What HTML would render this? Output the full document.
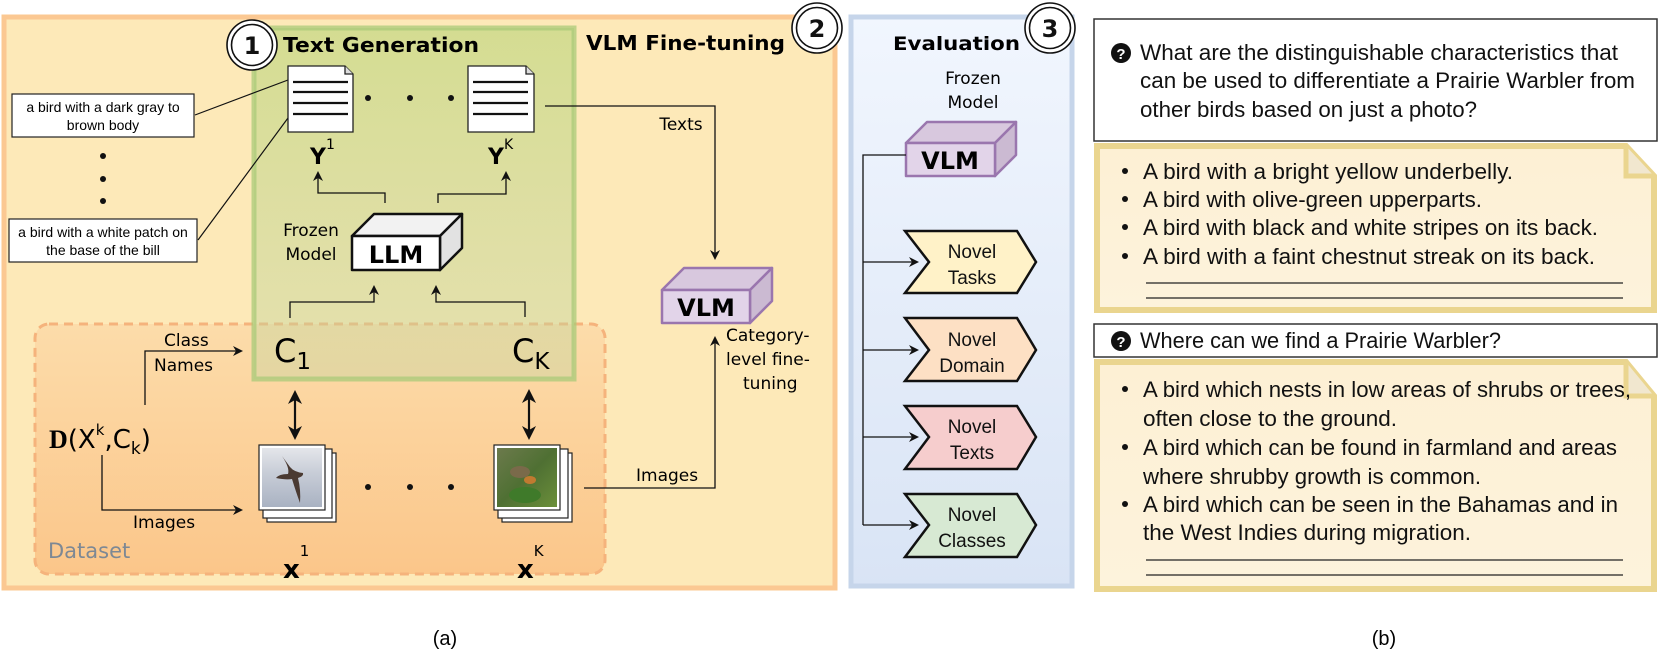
<!DOCTYPE html>
<html><head><meta charset="utf-8"><style>html,body{margin:0;padding:0;background:#fff}svg{display:block}</style></head>
<body>
<svg width="1661" height="659" viewBox="0 0 1661 659" xmlns="http://www.w3.org/2000/svg" font-family="'DejaVu Sans', 'Liberation Sans', sans-serif">
<defs>
<marker id="ah" markerWidth="10" markerHeight="10" refX="8" refY="5" orient="auto" markerUnits="userSpaceOnUse"><path d="M0,0 L10,5 L0,10 L3,5 Z" fill="#111"/></marker>
<marker id="ahb" markerWidth="14" markerHeight="14" refX="11" refY="7" orient="auto-start-reverse" markerUnits="userSpaceOnUse"><path d="M0,0 L14,7 L0,14 L4,7 Z" fill="#111"/></marker>
<linearGradient id="gds" x1="0" y1="0" x2="0" y2="1"><stop offset="0" stop-color="#fcdcaa"/><stop offset="1" stop-color="#fbc68a"/></linearGradient>
<linearGradient id="ggr" x1="0" y1="0" x2="0" y2="1"><stop offset="0" stop-color="rgb(185,212,120)" stop-opacity="0.6"/><stop offset="1" stop-color="rgb(195,212,160)" stop-opacity="0.4"/></linearGradient>
<linearGradient id="gev" x1="0" y1="0" x2="0" y2="1"><stop offset="0" stop-color="#f1f6fe"/><stop offset="1" stop-color="#d9e4f5"/></linearGradient>
<linearGradient id="gnote" x1="0" y1="0" x2="0" y2="1"><stop offset="0" stop-color="#fdf0d4"/><stop offset="1" stop-color="#fdf3dc"/></linearGradient>
<linearGradient id="gsky" x1="0" y1="0" x2="0" y2="1"><stop offset="0" stop-color="#e4e6ea"/><stop offset="0.4" stop-color="#c9ced8"/><stop offset="1" stop-color="#a9b2c2"/></linearGradient>
<linearGradient id="gfor" x1="0" y1="0" x2="1" y2="1"><stop offset="0" stop-color="#6c7a4c"/><stop offset="0.5" stop-color="#4f7033"/><stop offset="1" stop-color="#6b8f3a"/></linearGradient>
</defs>

<!-- Outer orange panel -->
<rect x="4" y="17" width="831" height="571" fill="#fde9b8" stroke="#fbc892" stroke-width="5"/>
<!-- Dataset box -->
<rect x="35" y="324" width="570" height="250" rx="14" fill="url(#gds)" stroke="#f5b37c" stroke-width="3" stroke-dasharray="9,6"/>
<text x="48" y="558" font-size="21" fill="#7d8894">Dataset</text>
<!-- Green box -->
<rect x="254" y="28" width="320" height="351" fill="url(#ggr)" stroke="rgb(170,202,120)" stroke-opacity="0.75" stroke-width="5"/>

<!-- Evaluation panel -->
<rect x="851" y="17" width="221" height="569" fill="url(#gev)" stroke="#c6d5ea" stroke-width="5"/>

<!-- circles -->
<g fill="#fff" stroke="#111" stroke-width="1.6">
<circle cx="252" cy="45" r="25"/><circle cx="252" cy="45" r="20.5"/>
<circle cx="817" cy="28" r="25"/><circle cx="817" cy="28" r="20.5"/>
<circle cx="1050" cy="28" r="25"/><circle cx="1050" cy="28" r="20.5"/>
</g>
<g font-weight="bold" font-size="24" text-anchor="middle" fill="#111">
<text x="252" y="54">1</text><text x="817" y="37">2</text><text x="1050" y="37">3</text>
</g>
<text x="283" y="52" font-size="20" font-weight="bold" textLength="196" lengthAdjust="spacingAndGlyphs">Text Generation</text>
<text x="586" y="50" font-size="20" font-weight="bold" textLength="199" lengthAdjust="spacingAndGlyphs">VLM Fine-tuning</text>

<!-- left text boxes -->
<rect x="12" y="94" width="182" height="43" fill="#fff" stroke="#222" stroke-width="1.2"/>
<text x="103" y="112" font-size="14" text-anchor="middle" font-family="'Liberation Sans',sans-serif">a bird with a dark gray to</text>
<text x="103" y="130" font-size="14" text-anchor="middle" font-family="'Liberation Sans',sans-serif">brown body</text>
<rect x="9" y="219" width="188" height="43" fill="#fff" stroke="#222" stroke-width="1.2"/>
<text x="103" y="237" font-size="14" text-anchor="middle" font-family="'Liberation Sans',sans-serif">a bird with a white patch on</text>
<text x="103" y="255" font-size="14" text-anchor="middle" font-family="'Liberation Sans',sans-serif">the base of the bill</text>
<g fill="#111"><circle cx="103" cy="156" r="3"/><circle cx="103" cy="179" r="3"/><circle cx="103" cy="201" r="3"/></g>
<line x1="195" y1="115" x2="288" y2="80" stroke="#111" stroke-width="1.2"/>
<line x1="198" y1="240" x2="288" y2="118" stroke="#111" stroke-width="1.2"/>

<!-- docs -->
<g stroke="#222" stroke-width="1.3">
<path d="M288,66 L345,66 L353,74 L353,132 L288,132 Z" fill="#fff"/><path d="M345,66 L345,74 L353,74" fill="#ddd"/>
<path d="M468,66 L526,66 L534,74 L534,132 L468,132 Z" fill="#fff"/><path d="M526,66 L526,74 L534,74" fill="#ddd"/>
</g>
<g stroke="#111" stroke-width="2.2">
<line x1="293" y1="82" x2="348" y2="82"/><line x1="293" y1="92" x2="348" y2="92"/><line x1="293" y1="103" x2="348" y2="103"/><line x1="293" y1="114" x2="348" y2="114"/>
<line x1="473" y1="82" x2="528" y2="82"/><line x1="473" y1="92" x2="528" y2="92"/><line x1="473" y1="103" x2="528" y2="103"/><line x1="473" y1="114" x2="528" y2="114"/>
</g>
<g fill="#111"><circle cx="368" cy="98" r="3"/><circle cx="410" cy="98" r="3"/><circle cx="451" cy="98" r="3"/>
<circle cx="368" cy="487" r="3"/><circle cx="410" cy="487" r="3"/><circle cx="451" cy="487" r="3"/></g>
<text x="310" y="164" font-size="22" font-weight="bold">Y<tspan font-weight="normal" font-size="14" dy="-15">1</tspan></text>
<text x="488" y="164" font-size="22" font-weight="bold">Y<tspan font-weight="normal" font-size="14" dy="-15">K</tspan></text>

<!-- LLM -->
<g stroke="#111" stroke-width="2.5" stroke-linejoin="round">
<path d="M352,236 L374,214 L462,214 L440,236 Z" fill="#f2f2f2"/>
<path d="M440,236 L462,214 L462,248 L440,270 Z" fill="#e2e2e2"/>
<rect x="352" y="236" width="88" height="34" fill="#fff"/>
</g>
<text x="396" y="263" font-size="24" font-weight="bold" text-anchor="middle">LLM</text>
<text x="311" y="236" font-size="17" text-anchor="middle">Frozen</text>
<text x="311" y="260" font-size="17" text-anchor="middle">Model</text>

<!-- arrows -->
<g fill="none" stroke="#111" stroke-width="1.3">
<path d="M385,203 V193 H318 V173" marker-end="url(#ah)"/>
<path d="M438,203 V194 H506 V173" marker-end="url(#ah)"/>
<path d="M290,318 V302 H374 V287" marker-end="url(#ah)"/>
<path d="M525,317 V302 H436 V287" marker-end="url(#ah)"/>
<path d="M545,106 H715 V258" marker-end="url(#ah)"/>
<path d="M584,488 H715 V338" marker-end="url(#ah)"/>
<path d="M145,405 V351 H241" marker-end="url(#ah)"/>
<path d="M102,455 V510 H241" marker-end="url(#ah)"/>
</g>
<text x="681" y="130" font-size="17" text-anchor="middle">Texts</text>
<text x="164" y="346" font-size="17">Class</text>
<text x="154" y="371" font-size="17">Names</text>
<text x="133" y="528" font-size="17">Images</text>
<text x="636" y="481" font-size="17">Images</text>

<!-- C labels -->
<text x="274" y="362" font-size="32">C<tspan font-size="23" dy="7">1</tspan></text>
<text x="512" y="362" font-size="32">C<tspan font-size="23" dy="7">K</tspan></text>

<!-- double arrows -->
<g stroke="#111" stroke-width="2.2">
<line x1="295" y1="393" x2="295" y2="437" marker-start="url(#ahb)" marker-end="url(#ahb)"/>
<line x1="529" y1="392" x2="529" y2="437" marker-start="url(#ahb)" marker-end="url(#ahb)"/>
</g>

<!-- D(X^k,C_k) -->
<text x="49" y="448" font-size="26"><tspan font-family="'Liberation Serif',serif" font-weight="bold">D</tspan><tspan>(X</tspan><tspan font-size="15" dy="-13">k</tspan><tspan dy="13">,C</tspan><tspan font-size="17" dy="6">k</tspan><tspan dy="-6">)</tspan></text>

<!-- image stacks -->
<g stroke="#222" stroke-width="1.2" fill="#fff">
<rect x="267" y="453" width="69" height="69"/><rect x="263" y="449" width="69" height="69"/><rect x="259" y="445" width="66" height="65"/>
<rect x="502" y="453" width="70" height="69"/><rect x="498" y="449" width="70" height="69"/><rect x="494" y="445" width="66" height="65"/>
</g>
<rect x="262" y="448" width="60" height="59" fill="url(#gsky)"/>
<path d="M282,456 Q290,468 288,474 Q279,474 276,478 Q286,480 292,479 Q296,492 300,503 Q301,490 298,478 Q304,476 303,473 Q294,472 290,467 Z" fill="#4a3a32"/>
<rect x="497" y="448" width="60" height="59" fill="url(#gfor)"/>
<ellipse cx="520" cy="472" rx="10" ry="6" fill="#7a6a4a"/><ellipse cx="530" cy="480" rx="6" ry="4" fill="#c07a30"/>
<ellipse cx="525" cy="495" rx="16" ry="8" fill="#3f7a2a"/>

<text x="283" y="578" font-size="26" font-weight="bold">x<tspan font-weight="normal" font-size="15" dy="-22">1</tspan></text>
<text x="517" y="578" font-size="26" font-weight="bold">x<tspan font-weight="normal" font-size="15" dy="-22">K</tspan></text>

<!-- VLM fine-tune box -->
<g stroke="#9a76ae" stroke-width="2.5" stroke-linejoin="round">
<path d="M662,290 L684,268 L772,268 L750,290 Z" fill="#d8c8de"/>
<path d="M750,290 L772,268 L772,301 L750,323 Z" fill="#cbbad2"/>
<rect x="662" y="290" width="88" height="33" fill="#e2d4e9"/>
</g>
<text x="706" y="316" font-size="24" font-weight="bold" text-anchor="middle">VLM</text>
<text x="726" y="341" font-size="17">Category-</text>
<text x="726" y="365" font-size="17">level fine-</text>
<text x="743" y="389" font-size="17">tuning</text>

<!-- Evaluation content -->
<text x="893" y="50" font-size="19" font-weight="bold" textLength="127" lengthAdjust="spacingAndGlyphs">Evaluation</text>
<text x="973" y="84" font-size="17" text-anchor="middle">Frozen</text>
<text x="973" y="108" font-size="17" text-anchor="middle">Model</text>
<g stroke="#9a76ae" stroke-width="2.5" stroke-linejoin="round">
<path d="M906,143 L927,122 L1016,122 L995,143 Z" fill="#d8c8de"/>
<path d="M995,143 L1016,122 L1016,155 L995,176 Z" fill="#cbbad2"/>
<rect x="906" y="143" width="89" height="33" fill="#e2d4e9"/>
</g>
<text x="950" y="169" font-size="24" font-weight="bold" text-anchor="middle">VLM</text>
<g fill="none" stroke="#111" stroke-width="1.3">
<path d="M906,155 H863 V525"/>
<path d="M863,262 H917" marker-end="url(#ah)"/>
<path d="M863,350 H917" marker-end="url(#ah)"/>
<path d="M863,437 H917" marker-end="url(#ah)"/>
<path d="M863,525 H917" marker-end="url(#ah)"/>
</g>
<g stroke="#111" stroke-width="2.5" stroke-linejoin="miter">
<path d="M905,231 L1017,231 L1036,262 L1017,293 L905,293 L929,262 Z" fill="#fff2c8"/>
<path d="M905,318 L1017,318 L1036,350 L1017,381 L905,381 L929,350 Z" fill="#fde0c4"/>
<path d="M905,406 L1017,406 L1036,437 L1017,469 L905,469 L929,437 Z" fill="#f6cdcd"/>
<path d="M905,494 L1017,494 L1036,525 L1017,557 L905,557 L929,525 Z" fill="#d7e9d3"/>
</g>
<g font-size="19" text-anchor="middle" font-family="'Liberation Sans',sans-serif" fill="#111">
<text x="972" y="258">Novel</text><text x="972" y="284">Tasks</text>
<text x="972" y="346">Novel</text><text x="972" y="372">Domain</text>
<text x="972" y="433">Novel</text><text x="972" y="459">Texts</text>
<text x="972" y="521">Novel</text><text x="972" y="547">Classes</text>
</g>

<!-- Right panel -->
<g font-family="'Liberation Sans',sans-serif" fill="#111" font-size="22">
<rect x="1094" y="19" width="563" height="122" fill="#fff" stroke="#333" stroke-width="1.5"/>
<circle cx="1121" cy="53" r="10" fill="#111"/><text x="1121" y="59" font-size="15" font-weight="bold" fill="#fff" text-anchor="middle">?</text>
<text x="1140" y="60" textLength="478" lengthAdjust="spacingAndGlyphs">What are the distinguishable characteristics that</text>
<text x="1140" y="88" textLength="495" lengthAdjust="spacingAndGlyphs">can be used to differentiate a Prairie Warbler from</text>
<text x="1140" y="117" textLength="337" lengthAdjust="spacingAndGlyphs">other birds based on just a photo?</text>

<path d="M1097,146 L1626,146 L1654,176 L1654,310 L1097,310 Z" fill="url(#gnote)" stroke="#ead58f" stroke-width="6" stroke-linejoin="miter"/>
<path d="M1626,146 L1626,176 L1654,176" fill="#f1e7cf" stroke="#ead58f" stroke-width="5"/>
<circle cx="1125" cy="171" r="3"/><text x="1143" y="179" textLength="370" lengthAdjust="spacingAndGlyphs">A bird with a bright yellow underbelly.</text>
<circle cx="1125" cy="199" r="3"/><text x="1143" y="207" textLength="339" lengthAdjust="spacingAndGlyphs">A bird with olive-green upperparts.</text>
<circle cx="1125" cy="227" r="3"/><text x="1143" y="235" textLength="455" lengthAdjust="spacingAndGlyphs">A bird with black and white stripes on its back.</text>
<circle cx="1125" cy="256" r="3"/><text x="1143" y="264" textLength="452" lengthAdjust="spacingAndGlyphs">A bird with a faint chestnut streak on its back.</text>
<line x1="1146" y1="283" x2="1623" y2="283" stroke="#222" stroke-width="1.3"/>
<line x1="1146" y1="298" x2="1623" y2="298" stroke="#222" stroke-width="1.3"/>

<rect x="1094" y="324" width="563" height="33" fill="#fff" stroke="#333" stroke-width="1.5"/>
<circle cx="1121" cy="341" r="10" fill="#111"/><text x="1121" y="347" font-size="15" font-weight="bold" fill="#fff" text-anchor="middle">?</text>
<text x="1140" y="348" textLength="361" lengthAdjust="spacingAndGlyphs">Where can we find a Prairie Warbler?</text>

<path d="M1097,362 L1626,362 L1654,396 L1654,589 L1097,589 Z" fill="url(#gnote)" stroke="#ead58f" stroke-width="6" stroke-linejoin="miter"/>
<path d="M1626,362 L1626,396 L1654,396" fill="#f1e7cf" stroke="#ead58f" stroke-width="5"/>
<circle cx="1125" cy="389" r="3"/><text x="1143" y="397" textLength="488" lengthAdjust="spacingAndGlyphs">A bird which nests in low areas of shrubs or trees,</text>
<text x="1143" y="426" textLength="254" lengthAdjust="spacingAndGlyphs">often close to the ground.</text>
<circle cx="1125" cy="447" r="3"/><text x="1143" y="455" textLength="474" lengthAdjust="spacingAndGlyphs">A bird which can be found in farmland and areas</text>
<text x="1143" y="484" textLength="338" lengthAdjust="spacingAndGlyphs">where shrubby growth is common.</text>
<circle cx="1125" cy="504" r="3"/><text x="1143" y="512" textLength="475" lengthAdjust="spacingAndGlyphs">A bird which can be seen in the Bahamas and  in</text>
<text x="1143" y="540" textLength="328" lengthAdjust="spacingAndGlyphs">the West Indies during migration.</text>
<line x1="1146" y1="560" x2="1623" y2="560" stroke="#222" stroke-width="1.3"/>
<line x1="1146" y1="575" x2="1623" y2="575" stroke="#222" stroke-width="1.3"/>
</g>

<text x="445" y="645" font-size="20" text-anchor="middle" font-family="'Liberation Sans',sans-serif">(a)</text>
<text x="1384" y="645" font-size="20" text-anchor="middle" font-family="'Liberation Sans',sans-serif">(b)</text>
</svg>
</body></html>
